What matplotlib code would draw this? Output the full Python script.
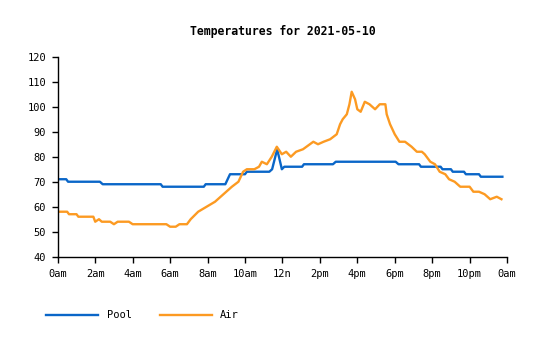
import matplotlib
matplotlib.use("Agg")
import matplotlib.pyplot as plt

# pool sensor readings (hour of day, deg F)
pool_hours = [0, 0.45, 0.55, 2.25, 2.4, 5.5, 5.6, 7.8, 7.9, 8.95, 9.2, 10.0, 10.1,
              11.3, 11.45, 11.72, 11.97, 12.1, 13.05, 13.15, 14.7, 14.85, 18.05, 18.2,
              19.3, 19.4, 20.45, 20.55, 21.0, 21.1, 21.7, 21.8, 22.5, 22.6, 23.75]
pool_temps = [71, 71, 70, 70, 69, 69, 68, 68, 69, 69, 73, 73, 74,
              74, 75, 83, 75, 76, 76, 77, 77, 78, 78, 77,
              77, 76, 76, 75, 75, 74, 74, 73, 73, 72, 72]

# air sensor readings
air_hours = [0, 0.5, 0.6, 1.0, 1.1, 1.9, 2.0, 2.2, 2.35, 2.8, 3.0, 3.2, 3.8, 4.0,
             5.8, 6.0, 6.3, 6.5, 6.9, 7.1, 7.5, 7.95, 8.4, 8.85, 9.3, 9.65, 9.9,
             10.1, 10.5, 10.75, 10.9, 11.17, 11.43, 11.7, 11.97, 12.2, 12.45, 12.73,
             13.1, 13.65, 13.9, 14.2, 14.55, 14.9, 15.08, 15.22, 15.44, 15.58, 15.7,
             15.88, 16.0, 16.18, 16.4, 16.65, 16.95, 17.2, 17.5, 17.57, 17.75, 18.0,
             18.25, 18.55, 18.9, 19.18, 19.45, 19.6, 19.9, 20.15, 20.4, 20.7, 20.9,
             21.2, 21.5, 22.0, 22.2, 22.5, 22.8, 23.1, 23.45, 23.7]
air_temps = [58, 58, 57, 57, 56, 56, 54, 55, 54, 54, 53, 54, 54, 53,
             53, 52, 52, 53, 53, 55, 58, 60, 62, 65, 68, 70, 74,
             75, 75, 76, 78, 77, 80, 84, 81, 82, 80, 82,
             83, 86, 85, 86, 87, 89, 93, 95, 97, 101, 106,
             103, 99, 98, 102, 101, 99, 101, 101, 97, 93, 89,
             86, 86, 84, 82, 82, 81, 78, 77, 74, 73, 71,
             70, 68, 68, 66, 66, 65, 63, 64, 63]

tick_hours = list(range(0, 25, 2))
tick_labels = ["0am", "2am", "4am", "6am", "8am", "10am", "12n",
               "2pm", "4pm", "6pm", "8pm", "10pm", "0am"]

mono = "DejaVu Sans Mono"

fig = plt.figure(figsize=(5.4, 3.4), dpi=100)
ax = fig.add_axes([0.107, 0.245, 0.832, 0.588])

ax.plot(pool_hours, pool_temps, color="#0a66c8", lw=1.7, label="Pool")
ax.plot(air_hours, air_temps, color="#fc9a22", lw=1.7, label="Air")

ax.set_xlim(0, 24)
ax.set_ylim(40, 120)
ax.set_xticks(tick_hours)
ax.set_xticklabels(tick_labels)
ax.set_yticks(range(40, 121, 10))

for side in ("top", "right"):
    ax.spines[side].set_visible(False)
for side in ("left", "bottom"):
    ax.spines[side].set_linewidth(1.0)

ax.tick_params(direction="out", length=4.5, width=1.0, pad=4,
               labelsize=7.5)
for lbl in ax.get_xticklabels() + ax.get_yticklabels():
    lbl.set_family(mono)

ax.set_title("Temperatures for 2021-05-10", family=mono, fontweight="bold",
             fontsize=8.3, pad=16)

fig.legend(loc="lower left", bbox_to_anchor=(0.068, 0.03), ncol=2,
           frameon=False, handlelength=5.0, handletextpad=0.8,
           columnspacing=2.7, prop={"family": mono, "size": 7.5})

fig.savefig("out.png", dpi=100)
